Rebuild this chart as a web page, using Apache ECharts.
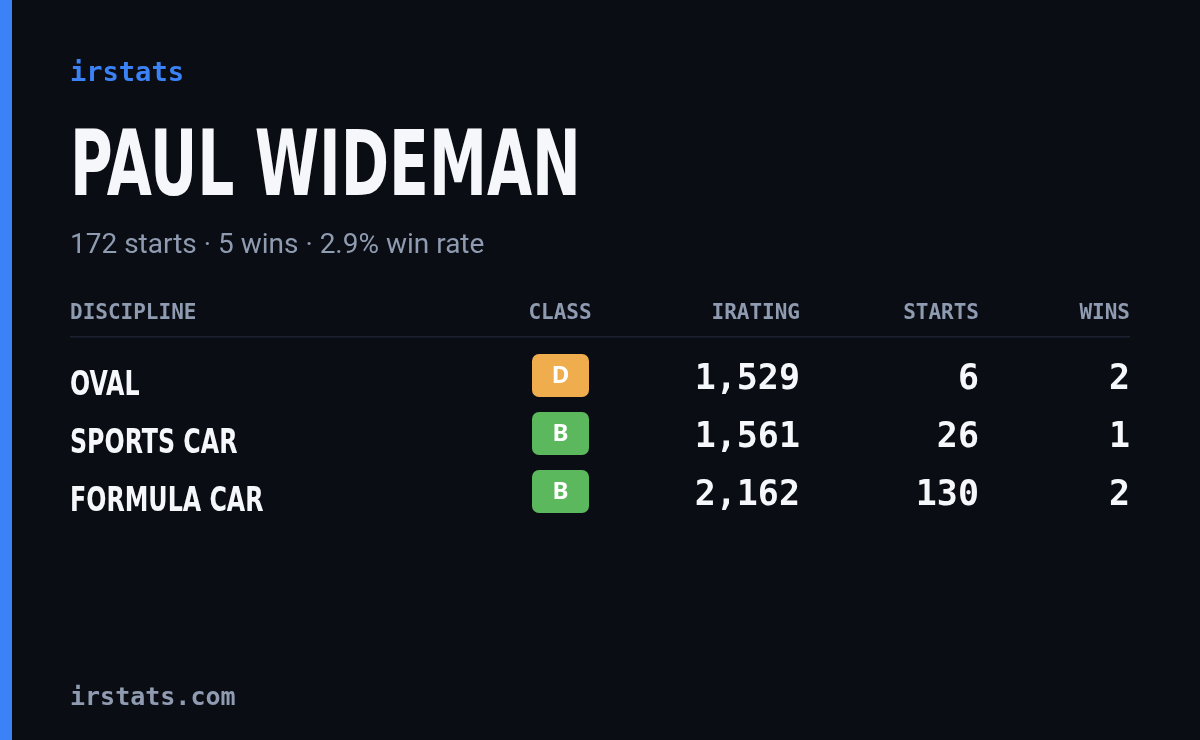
<!DOCTYPE html>
<html><head><meta charset="utf-8">
<script src="https://cdn.jsdelivr.net/npm/echarts@6/dist/echarts.min.js"></script>
<style>html,body{margin:0;padding:0;background:#0a0d14}#c{width:1200px;height:740px}</style>
</head><body><div id="c"></div>
<script>
const brand = "irstats";
const driverName = "PAUL WIDEMAN";
const summary = "172 starts · 5 wins · 2.9% win rate";
const headers = ["DISCIPLINE", "CLASS", "IRATING", "STARTS", "WINS"];
const disciplines = ["OVAL", "SPORTS CAR", "FORMULA CAR"];
const classes = ["D", "B", "B"];
const iratings = [1529, 1561, 2162];
const starts = [6, 26, 130];
const wins = [2, 1, 2];
const footer = "irstats.com";

const classColors = {A:"#3b82f6", B:"#5cb85c", C:"#f5d442", D:"#f0ad4e", R:"#e05252"};
const mono = "'DejaVu Sans Mono', 'Liberation Mono', monospace";
const cond = "'DejaVu Sans Condensed', 'Liberation Sans Narrow', 'DejaVu Sans', sans-serif";
const fmt = v => v.toLocaleString('en-US');

const g = [];
g.push({type:'rect', shape:{x:0,y:0,width:12,height:740}, style:{fill:'#3b82f6'}});
g.push({type:'text', x:70, y:74, scaleX:1.04, style:{text:brand, fill:'#3b82f6', font:`bold 26px ${mono}`, textVerticalAlign:'middle'}});
g.push({type:'text', x:70, y:217, scaleX:0.72, style:{text:driverName, fill:'#f5f7fb', font:`bold 90px ${cond}`, textVerticalAlign:'bottom'}});
g.push({type:'text', x:70, y:246, style:{text:summary, fill:'#8f9bb0', font:`28px Roboto, 'Noto Sans', sans-serif`, textVerticalAlign:'middle'}});
const colX = [70, 560, 800, 979, 1130];
const colAlign = ['left','center','right','right','right'];
headers.forEach((h,i)=>g.push({type:'text', x:colX[i], y:314, style:{text:h, fill:'#8f9bb0', font:`bold 21px ${mono}`, textAlign:colAlign[i], textVerticalAlign:'middle'}}));
g.push({type:'rect', shape:{x:70,y:336,width:1060,height:1.5}, style:{fill:'#1d2230'}});
disciplines.forEach((d,i)=>{
  const y = 378 + i*58;
  g.push({type:'text', x:70, y:y+8, scaleX:0.8, style:{text:d, fill:'#f5f7fb', font:`bold 33px ${cond}`, textVerticalAlign:'middle'}});
  g.push({type:'rect', shape:{x:532,y:y-24,width:57,height:43,r:7}, style:{fill:classColors[classes[i]]}});
  g.push({type:'text', x:560.5, y:y-2, style:{text:classes[i], fill:'#ffffff', font:`bold 24px 'Noto Sans', sans-serif`, textAlign:'center', textVerticalAlign:'middle'}});
  [fmt(iratings[i]), String(starts[i]), String(wins[i])].forEach((t,j)=>
    g.push({type:'text', x:colX[j+2], y:y+2, style:{text:t, fill:'#f5f7fb', font:`bold 35px ${mono}`, textAlign:'right', textVerticalAlign:'middle'}}));
});
g.push({type:'text', x:70, y:698, style:{text:footer, fill:'#8f9bb0', font:`bold 25px ${mono}`, textVerticalAlign:'middle'}});

const chart = echarts.init(document.getElementById('c'));
chart.setOption({backgroundColor:'#0a0d14', graphic:{elements:g}});
</script></body></html>
